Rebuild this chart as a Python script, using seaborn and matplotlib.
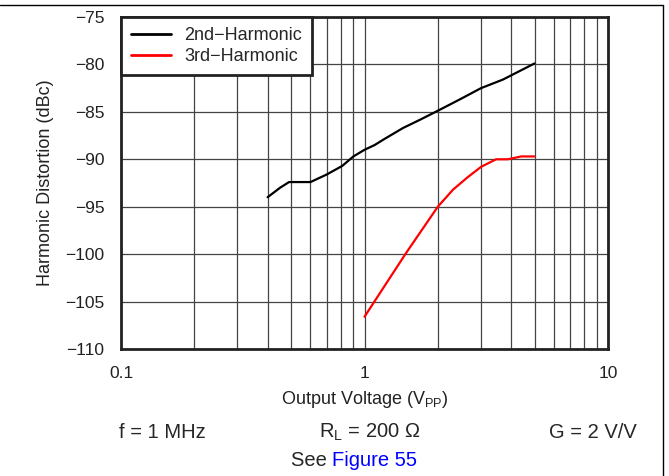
import numpy as np
import pandas as pd
import matplotlib
matplotlib.use("Agg")
import matplotlib.pyplot as plt
import seaborn as sns
from matplotlib.lines import Line2D
from matplotlib.ticker import LogLocator, FixedLocator, NullFormatter

# values
h2_vout = [0.40, 0.45, 0.49, 0.54, 0.60, 0.70, 0.81, 0.90, 1.00, 1.10, 1.20, 1.44, 1.70, 2.03, 2.50, 3.01, 3.70, 4.99]
h2_dbc = [-94.0, -93.0, -92.4, -92.4, -92.4, -91.6, -90.7, -89.7, -89.0, -88.5, -87.9, -86.7, -85.8, -84.8, -83.6, -82.5, -81.6, -79.9]
h3_vout = [1.0, 1.48, 2.0, 2.31, 2.65, 3.01, 3.47, 3.88, 4.4, 4.99]
h3_dbc = [-106.6, -99.9, -95.0, -93.2, -91.9, -90.8, -90.0, -90.0, -89.7, -89.7]
y_ticks = [-75, -80, -85, -90, -95, -100, -105, -110]

df = pd.concat([
    pd.DataFrame({"Vout": h2_vout, "HD": h2_dbc, "series": "2nd\u2212Harmonic"}),
    pd.DataFrame({"Vout": h3_vout, "HD": h3_dbc, "series": "3rd\u2212Harmonic"}),
])

sns.set_style("white")
plt.rcParams["font.family"] = ["Liberation Sans", "DejaVu Sans"]
plt.rcParams["axes.unicode_minus"] = True

fig = plt.figure(figsize=(6.69, 4.76), dpi=100)
ax = fig.add_axes([121 / 669, 1 - 349 / 476, (608 - 121) / 669, (349 - 17) / 476])

palette = {"2nd\u2212Harmonic": "black", "3rd\u2212Harmonic": "red"}
sns.lineplot(data=df, x="Vout", y="HD", hue="series", palette=palette,
             linewidth=1.6, ax=ax, legend=False, sort=False, estimator=None, zorder=3)

ax.set_xscale("log")
ax.set_xlim(0.1, 10)
ax.set_ylim(-110, -75)
ax.set_yticks(y_ticks)
ax.set_yticklabels([f"\u2212{abs(v)}" for v in y_ticks])
ax.xaxis.set_major_locator(FixedLocator([0.1, 1, 10]))
ax.set_xticklabels(["0.1", "1", "10"])
ax.xaxis.set_minor_locator(LogLocator(base=10, subs=np.arange(2, 10)))
ax.xaxis.set_minor_formatter(NullFormatter())
ax.tick_params(axis="both", which="both", length=0, labelsize=12.5, colors="#222222")
ax.tick_params(axis="x", pad=12)
ax.tick_params(axis="y", pad=12)
ax.grid(True, which="both", color="#444444", linewidth=0.9)

for s in ax.spines.values():
    s.set_linewidth(2)
    s.set_color("#222222")

ax.set_xlabel("Output Voltage (V$_{\\mathregular{PP}}$)", fontsize=13, color="#222222", va="center")
ax.xaxis.set_label_coords(0.5, (349 - 400) / 332)
ax.set_ylabel("Harmonic Distortion (dBc)", fontsize=13, color="#222222", va="center")
ax.yaxis.set_label_coords((45 - 121) / 487, 0.5)

handles = [Line2D([], [], color=palette[k], linewidth=2) for k in palette]
leg = ax.legend(handles, list(palette), loc="upper left", fontsize=13, frameon=True,
                fancybox=False, borderaxespad=0, handlelength=2.2, handletextpad=0.75,
                labelspacing=0.25, borderpad=0.55)
leg.get_frame().set_edgecolor("#222222")
leg.get_frame().set_linewidth(2)
leg.get_frame().set_alpha(1)
leg.set_zorder(5)

fs = 14.5
fig.text(162 / 669, 1 - 432 / 476, "f = 1 MHz", fontsize=fs, ha="center", va="center")
fig.text(370 / 669, 1 - 432 / 476, "R$_{\\mathregular{L}}$ = 200 \u03a9", fontsize=fs, ha="center", va="center")
fig.text(593 / 669, 1 - 432 / 476, "G = 2 V/V", fontsize=fs, ha="center", va="center")
t = fig.text(291 / 669, 1 - 460 / 476, "See ", fontsize=fs, ha="left", va="center")
fig.canvas.draw()
bb = t.get_window_extent()
fig.text(bb.x1 / fig.bbox.width, 1 - 460 / 476, "Figure 55", fontsize=fs, ha="left", va="center", color="#0000ff")

# outer frame visible at top and right
fig.add_artist(Line2D([0, 663 / 669], [1 - 5 / 476, 1 - 5 / 476], color="black", linewidth=1, transform=fig.transFigure))
fig.add_artist(Line2D([663 / 669, 663 / 669], [0, 1 - 5 / 476], color="black", linewidth=1, transform=fig.transFigure))

fig.savefig("out.png", dpi=100)
